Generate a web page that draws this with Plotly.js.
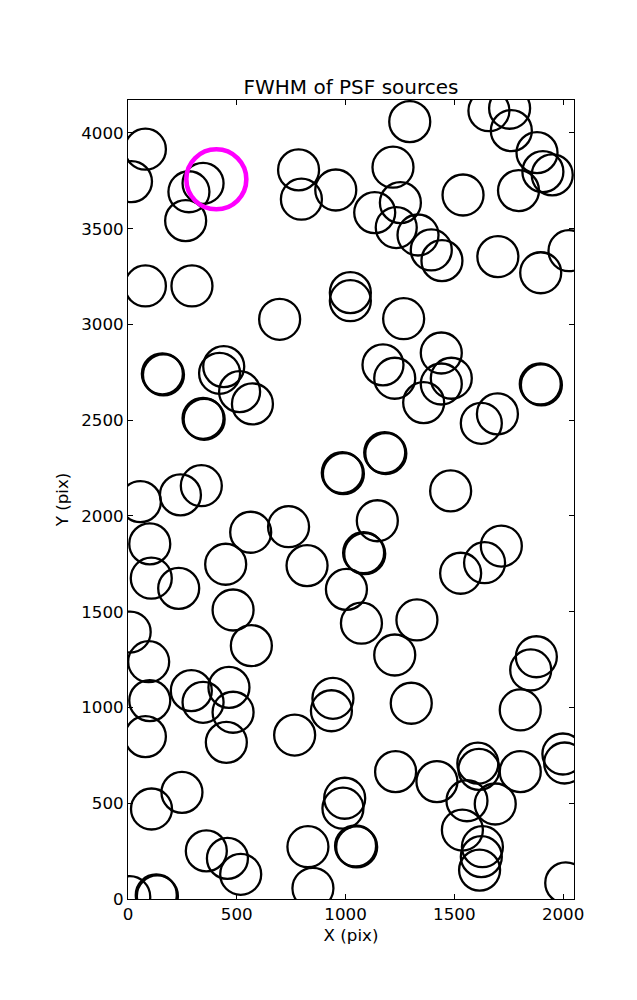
<!DOCTYPE html>
<html>
<head>
<meta charset="utf-8">
<script src="https://cdn.plot.ly/plotly-3.0.1.min.js"></script>
<style>html,body{margin:0;padding:0;background:#fff;}</style>
</head>
<body>
<div id="chart" style="width:637px;height:1000px;"></div>
<script>
// PSF source positions (pixels)
const srcX = [80,16,280,345,265,784,797,955,1295,1659,1754,1762,1880,1907,1950,1795,1540,1218,1252,1134,
  1233,1333,1394,1443,1700,1897,2027,80,294,697,1022,1022,1267,158,163,421,440,513,572,345,350,
  1172,1226,1440,1486,1440,1359,1624,1698,1895,1900,1180,1185,985,990,57,241,337,1483,1146,1083,1088,
  100,107,233,449,564,738,823,1004,1073,483,567,1328,1529,1639,1716,10,1226,1877,1851,1803,1302,
  95,100,80,291,345,464,483,452,766,942,935,248,108,360,457,518,130,135,8,827,850,996,988,1046,1051,
  1230,1420,1558,1608,1613,1803,1688,1537,1629,1624,1616,1999,2007,2012];
const srcY = [3915,3746,3693,3737,3542,3807,3654,3702,4059,4116,4129,4012,3897,3798,3781,3699,3676,3821,3636,3584,
  3506,3467,3389,3333,3354,3270,3385,3201,3201,3027,3166,3124,3030,2742,2737,2745,2780,2649,2585,2510,2505,
  2789,2719,2851,2719,2689,2592,2484,2533,2689,2684,2331,2326,2226,2221,2075,2110,2158,2131,1975,1808,1803,
  1854,1675,1622,1748,1915,1944,1741,1617,1440,1509,1323,1457,1701,1756,1843,1394,1274,1265,1196,987,1022,
  1239,1036,848,1088,1027,1105,975,818,856,1048,983,557,470,251,212,129,21,16,12,273,56,526,474,277,272,
  665,613,513,709,677,665,496,360,273,221,151,757,710,84];
// highlighted source
const hiX = [406];
const hiY = [3758];

const xTicks = [0,500,1000,1500,2000];
const yTicks = [0,500,1000,1500,2000,2500,3000,3500,4000];

const FONT = 'DejaVu Sans, sans-serif';

const traces = [
  {x: srcX, y: srcY, type: 'scatter', mode: 'markers', cliponaxis: true, hoverinfo: 'skip',
   marker: {symbol: 'circle-open', size: 41, color: '#000000', line: {width: 2.3, color: '#000000'}}},
  {x: hiX, y: hiY, type: 'scatter', mode: 'markers', cliponaxis: true, hoverinfo: 'skip',
   marker: {symbol: 'circle-open', size: 60, color: '#FF00FF', line: {width: 4.6, color: '#FF00FF'}}}
];

const axisCommon = {
  showline: true, linecolor: '#000', linewidth: 1, mirror: 'allticks',
  ticks: 'inside', ticklen: 5, tickwidth: 1, tickcolor: '#000',
  showgrid: false, zeroline: false, tickmode: 'array',
  tickfont: {family: FONT, size: 16.7, color: '#000'}
};

const layout = {
  width: 637, height: 1000,
  margin: {l: 128, r: 63, t: 100, b: 101},
  paper_bgcolor: '#fff', plot_bgcolor: '#fff',
  showlegend: false,
  font: {family: FONT, color: '#000'},
  title: {text: 'FWHM of PSF sources', font: {family: FONT, size: 20, color: '#000'},
          x: 0.5, xref: 'paper', xanchor: 'center', y: 0.913, yanchor: 'middle', yref: 'container'},
  xaxis: Object.assign({}, axisCommon, {range: [0, 2050], tickvals: xTicks, ticktext: xTicks.map(String),
          title: {text: 'X (pix)', font: {family: FONT, size: 16.7, color: '#000'}, standoff: 6}}),
  yaxis: Object.assign({}, axisCommon, {range: [0, 4172], tickvals: yTicks, ticktext: yTicks.map(String),
          title: {text: 'Y (pix)', font: {family: FONT, size: 16.7, color: '#000'}, standoff: 8}})
};

Plotly.newPlot('chart', traces, layout, {staticPlot: true, displayModeBar: false});
</script>
</body>
</html>
